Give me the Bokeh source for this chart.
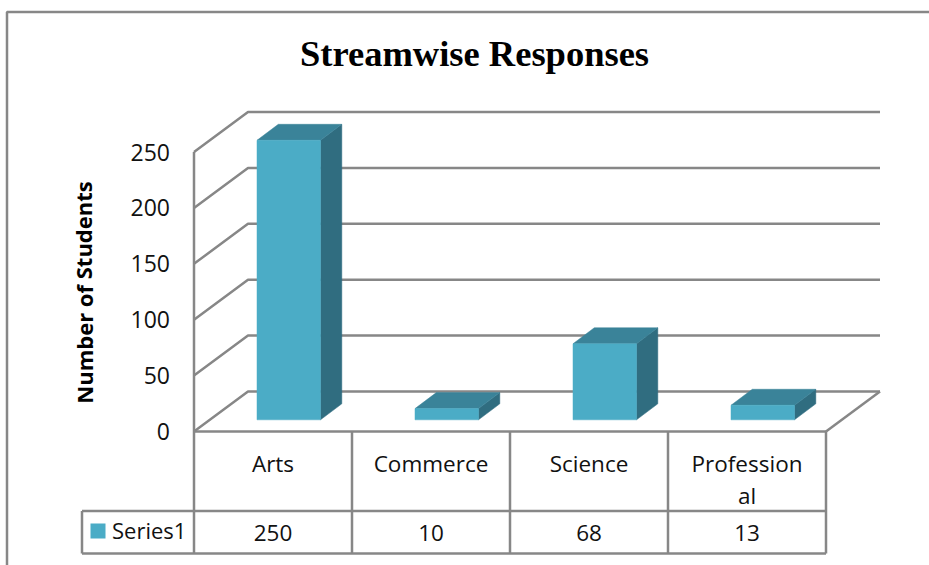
from bokeh.plotting import figure
from bokeh.models import LinearAxis, FixedTicker, Range1d
from bokeh.core.properties import value
from bokeh.embed import file_html
from bokeh.resources import INLINE

# ---- data ----
categories = ["Arts", "Commerce", "Science", "Profession\nal"]
series_name = "Series1"
series_values = [250, 10, 68, 13]
tick_values = [0, 50, 100, 150, 200, 250]
title_text = "Streamwise Responses"
y_title = "Number of Students"

# ---- style / layout ----
W, H = 929, 565
X0_PX, STEP_PX = 193.5, 158.0      # screen position of category 0 and width of one
Y0_PX, UNIT_PX = 431.0, 1.118      # screen position of value 0 and px per unit
LINE = "#878787"
FRONT, TOP, SIDE = "#4bacc6", "#3a8399", "#306d80"
BODY_FONT = "Open Sans"

def ux(px):
    return (px - X0_PX) / STEP_PX

def uy(py):
    return (Y0_PX - py) / UNIT_PX

WALL_DX, WALL_DY = 54 / STEP_PX, 40 / UNIT_PX
BAR_OFF = 63 / STEP_PX
BAR_W = 63.5 / STEP_PX
BAR_BASE = 11.7 / UNIT_PX
BAR_DX, BAR_DY = 21.3 / STEP_PX, 16 / UNIT_PX

p = figure(width=W, height=H, output_backend="svg", toolbar_location=None,
           x_range=Range1d(ux(0), ux(W)), y_range=Range1d(uy(H), uy(0)),
           min_border=0, x_axis_type=None, y_axis_type=None,
           outline_line_color=None, margin=(0, 0, 0, 0))
p.grid.visible = False

n = len(categories)
table_mid, table_bot = uy(510.5), uy(553)
legend_left = ux(81.5)

# outer chart border
p.line([ux(W), ux(6.5), ux(6.5)], [uy(11.5), uy(11.5), uy(H)], line_color=LINE, line_width=2.5)

# walls and gridlines
wall_xs, wall_ys = [], []
for v in tick_values:
    wall_xs.append([0, WALL_DX, n + WALL_DX])
    wall_ys.append([v, v + WALL_DY, v + WALL_DY])
p.multi_line(wall_xs, wall_ys, line_color=LINE, line_width=2.5)
p.line([n, n + WALL_DX], [0, WALL_DY], line_color=LINE, line_width=2.5)

# bars
for i, v in enumerate(series_values):
    l, r = i + BAR_OFF, i + BAR_OFF + BAR_W
    b, t = BAR_BASE, BAR_BASE + v
    p.patch([r, r + BAR_DX, r + BAR_DX, r], [b, b + BAR_DY, t + BAR_DY, t], color=SIDE, line_width=0.5)
    p.patch([l, r, r + BAR_DX, l + BAR_DX], [t, t, t + BAR_DY, t + BAR_DY], color=TOP, line_width=0.5)
    p.quad(left=l, right=r, bottom=b, top=t, color=FRONT, line_width=0.5)

# data table
p.line([0, n], [0, 0], line_color=LINE, line_width=2.5)
p.segment(x0=list(range(n + 1)), y0=[tick_values[-1] if i == 0 else 0 for i in range(n + 1)],
          x1=list(range(n + 1)), y1=[table_bot] * (n + 1), line_color=LINE, line_width=2.5)
p.segment(x0=[legend_left, legend_left, legend_left], y0=[table_mid, table_bot, table_mid],
          x1=[n, n, legend_left], y1=[table_mid, table_bot, table_bot], line_color=LINE, line_width=2.5)
p.quad(left=ux(90), right=ux(105), bottom=uy(538), top=uy(523), color=FRONT, line_color=None)
p.text(x=[ux(111.5)], y=[uy(529.5)], text=[series_name], text_font=value(BODY_FONT), text_font_size="22px",
       text_align="left", text_baseline="middle", text_color="#111111")
p.text(x=[i + 0.5 for i in range(n)], y=[uy(532)] * n, text=[str(v) for v in series_values],
       text_font=value(BODY_FONT), text_font_size="22.5px", text_align="center",
       text_baseline="middle", text_color="#111111")

# axes, placed on the chart's walls
yaxis = LinearAxis(fixed_location=0, ticker=FixedTicker(ticks=tick_values), axis_line_color=None,
                   major_tick_line_color=None, minor_tick_line_color=None, major_label_standoff=18,
                   major_label_text_font=BODY_FONT, major_label_text_font_size="23px",
                   major_label_text_color="#111111")
p.add_layout(yaxis, "left")
xaxis = LinearAxis(fixed_location=0, ticker=FixedTicker(ticks=[i + 0.5 for i in range(n)]),
                   major_label_overrides={i + 0.5: c for i, c in enumerate(categories)},
                   axis_line_color=None, major_tick_line_color=None, minor_tick_line_color=None,
                   major_label_standoff=10, major_label_text_font=BODY_FONT,
                   major_label_text_font_size="22.5px", major_label_text_line_height=1.04,
                   major_label_text_color="#111111")
p.add_layout(xaxis, "below")

# titles
p.text(x=[ux(474)], y=[uy(53)], text=[title_text], text_font=value("Liberation Serif"),
       text_font_style="bold", text_font_size="36.5px", text_align="center", text_baseline="middle",
       text_color="#000000")
p.text(x=[ux(83)], y=[uy(292)], text=[y_title], angle=1.5708, text_font=value(BODY_FONT),
       text_font_style="bold", text_font_size="22px", text_align="center", text_baseline="middle",
       text_color="#000000")

open("out.html", "w").write(file_html(p, INLINE))
